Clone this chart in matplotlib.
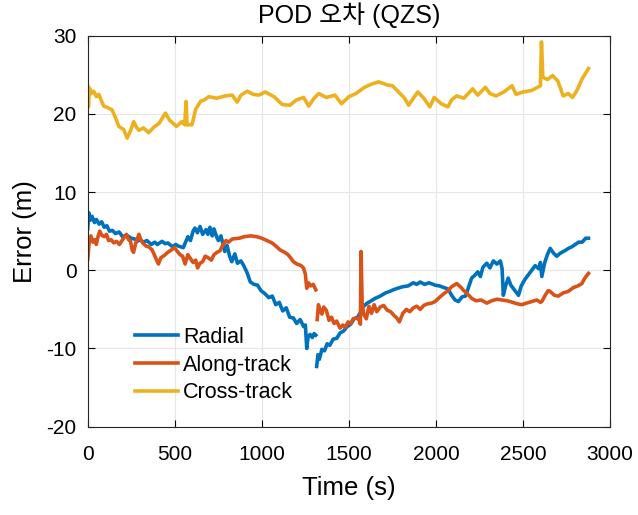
import numpy as np
import matplotlib
matplotlib.use("Agg")
import matplotlib.pyplot as plt

plt.rcParams['font.family'] = ['Liberation Sans', 'Noto Sans CJK KR', 'DejaVu Sans']
plt.rcParams['axes.unicode_minus'] = False

nan = np.nan

# Time (s) and error (m) values (nan = data gap)
radial_t = [0, 5, 15, 25, 39, 50, 65, 80, 95, 110, 125, 141, 160, 180, 200, 222, 250, 270, 284, 300, 320, 340, 365, 385, 400, 427, 445, 460, 488, 505, 520, 549, 560, 575, 590, 605, 616, 630, 645, 660, 680, 690, 702, 715, 725, 740, 750, 765, 787, 800, 815, 827, 845, 860, 880, 896, 915, 934, 955, 975, 995, 1018, 1040, 1060, 1080, 1100, 1120, 1140, 1160, 1181, 1200, 1220, 1240, 1250, 1258, 1265, 1277, 1290, 1300, 1310,
            1312,
            1315, 1322, 1330, 1345, 1360, 1375, 1390, 1410, 1430, 1450, 1468, 1490, 1510, 1530, 1550, 1564, 1575, 1590, 1605, 1621, 1650, 1680, 1710, 1735, 1755, 1780, 1810, 1840, 1870, 1890, 1909, 1935, 1960, 1995, 2020, 2045, 2070, 2090, 2110, 2129, 2150, 2170, 2190, 2205, 2225, 2240, 2255, 2270, 2292, 2310, 2330, 2350, 2370, 2380, 2387, 2400, 2415, 2430, 2450, 2474, 2490, 2510, 2530, 2550, 2570, 2590, 2600, 2608, 2625, 2640, 2656, 2675, 2694, 2715, 2740, 2761, 2780, 2800, 2820, 2840, 2860, 2876]
radial_v = [5.3, 7.4, 6.4, 6.9, 6.1, 6.5, 5.9, 6.2, 5.5, 5.7, 5.0, 5.1, 4.7, 4.9, 4.3, 4.5, 4.1, 4.0, 3.7, 3.9, 3.6, 3.8, 3.3, 3.6, 3.3, 3.7, 3.4, 3.5, 3.0, 3.3, 3.1, 2.9, 3.5, 4.3, 3.8, 5.0, 5.4, 4.8, 5.6, 4.6, 5.2, 4.6, 5.5, 4.4, 5.3, 4.3, 3.8, 4.4, 2.4, 3.2, 1.8, 1.1, 2.1, 0.9, 1.2, 0.6, -0.3, -1.5, -1.8, -1.9, -2.6, -3.0, -3.5, -3.3, -4.4, -4.1, -5.2, -4.8, -6.0, -6.1, -6.8, -6.3, -7.2, -7.0, -10.0, -8.6, -8.2, -8.6, -8.1, -8.3,
            nan,
            -12.3, -10.8, -11.4, -10.1, -10.3, -9.4, -9.6, -8.8, -8.7, -8.0, -7.8, -7.2, -6.9, -6.2, -6.0, -5.5, -4.8, -4.5, -4.2, -4.0, -3.6, -3.3, -2.9, -2.7, -2.5, -2.3, -2.1, -2.0, -1.6, -1.8, -1.5, -1.8, -1.6, -1.9, -2.0, -2.2, -2.4, -3.2, -3.8, -4.0, -3.4, -3.3, -2.0, -1.0, -0.6, -0.2, -0.8, 0.4, 0.9, 0.3, 1.2, 0.8, 1.2, 0.2, -3.2, -2.0, -1.0, -1.9, -2.5, -3.2, -2.0, -1.2, -0.6, 0.0, 0.6, 0.2, 1.0, -0.8, 1.0, 2.0, 2.8, 2.2, 1.8, 2.2, 2.5, 2.8, 3.0, 3.3, 3.6, 3.6, 4.1, 4.1]

along_t = [0, 8, 18, 30, 40, 49, 60, 69, 80, 95, 108, 120, 135, 150, 165, 182, 200, 222, 235, 245, 255, 263, 275, 294, 305, 320, 335, 350, 370, 390, 406, 420, 440, 460, 480, 498, 515, 530, 545, 559, 575, 590, 605, 620, 631, 645, 660, 675, 692, 710, 725, 743, 760, 775, 794, 810, 830, 870, 900, 937, 970, 1000, 1030, 1059, 1080, 1105, 1131, 1150, 1165, 1181, 1202, 1225, 1239, 1250, 1258, 1268, 1280, 1295, 1310,
           1314,
           1318, 1325, 1335, 1345, 1355, 1370, 1386, 1400, 1415, 1430, 1449, 1465, 1480, 1495, 1510, 1525, 1545, 1560, 1566, 1570, 1576, 1585, 1600, 1615, 1630, 1645, 1660, 1680, 1700, 1720, 1740, 1760, 1775, 1790, 1810, 1830, 1850, 1870, 1890, 1910, 1930, 1950, 1975, 1995, 2024, 2045, 2070, 2090, 2120, 2140, 2160, 2180, 2206, 2230, 2260, 2292, 2320, 2350, 2380, 2410, 2440, 2470, 2493, 2520, 2550, 2580, 2600, 2608, 2630, 2645, 2656, 2680, 2703, 2730, 2760, 2790, 2815, 2838, 2855, 2876]
along_v = [1.4, 3.5, 4.4, 3.6, 3.9, 3.3, 4.4, 5.0, 4.5, 4.3, 4.6, 3.8, 3.9, 3.5, 3.7, 3.3, 3.9, 4.6, 3.9, 3.8, 2.6, 2.3, 3.4, 4.6, 3.9, 3.4, 3.1, 3.0, 2.6, 1.6, 0.8, 1.6, 1.9, 2.3, 2.6, 2.9, 2.4, 2.0, 1.8, 0.8, 2.0, 1.5, 1.0, 1.3, 0.3, 0.9, 1.1, 1.8, 1.6, 1.3, 2.0, 2.3, 2.5, 3.2, 3.8, 3.6, 4.0, 4.1, 4.3, 4.4, 4.3, 4.1, 3.8, 3.5, 3.1, 2.6, 2.3, 2.0, 1.6, 1.1, 0.8, 0.6, 0.3, -0.5, -2.3, -1.6, -2.0, -1.8, -2.5,
           nan,
           -6.3, -4.4, -5.2, -5.6, -4.7, -5.1, -6.4, -6.0, -6.8, -6.5, -7.4, -7.0, -7.3, -6.6, -6.8, -6.2, -6.1, -6.4, -6.9, 2.4, -4.1, -5.6, -6.2, -4.6, -5.5, -4.4, -5.3, -4.7, -4.5, -5.1, -5.3, -5.8, -6.1, -6.6, -5.5, -5.0, -5.3, -4.8, -4.6, -5.0, -4.5, -4.3, -4.2, -4.0, -3.4, -3.0, -2.6, -2.1, -1.7, -2.1, -2.6, -3.0, -3.6, -3.9, -3.8, -4.2, -3.9, -3.7, -3.8, -3.9, -4.1, -4.3, -4.4, -4.2, -4.0, -3.8, -4.1, -4.0, -3.1, -2.6, -2.7, -3.2, -3.3, -2.9, -2.7, -2.2, -2.0, -1.7, -1.0, -0.4]

cross_t = [0, 4, 10, 20, 34, 50, 63, 80, 92, 115, 140, 160, 178, 207, 226, 245, 264, 280, 293, 320, 350, 380, 410, 446, 470, 490, 510, 540, 557, 565, 570, 599, 620, 648, 670, 696, 740, 790, 830, 858, 880, 916, 950, 983, 1020, 1070, 1117, 1160, 1200, 1240, 1269, 1300, 1327, 1370, 1420, 1457, 1500, 1540, 1590, 1630, 1671, 1720, 1750, 1794, 1820, 1843, 1870, 1896, 1930, 1965, 1990, 2030, 2069, 2090, 2119, 2160, 2211, 2240, 2284, 2310, 2345, 2390, 2437, 2460, 2500, 2550, 2600, 2606, 2614, 2640, 2670, 2700, 2731, 2760, 2784, 2810, 2840, 2876]
cross_v = [23.5, 20.9, 23.3, 22.6, 22.9, 22.2, 22.5, 21.6, 21.0, 20.8, 20.5, 19.5, 18.4, 18.0, 16.9, 17.8, 19.0, 18.3, 17.9, 18.2, 17.6, 18.3, 18.8, 20.1, 19.2, 18.8, 18.4, 19.0, 18.6, 21.6, 18.6, 18.6, 20.6, 21.6, 21.8, 22.2, 22.0, 22.3, 22.4, 21.5, 22.4, 22.9, 22.5, 22.4, 22.8, 22.2, 21.2, 21.1, 21.8, 22.1, 21.0, 22.0, 22.6, 22.1, 22.4, 21.3, 22.2, 22.6, 23.4, 23.8, 24.1, 23.7, 23.6, 22.6, 22.0, 21.1, 22.0, 22.8, 22.0, 20.9, 22.1, 21.3, 20.9, 21.8, 22.3, 22.0, 23.2, 22.4, 23.4, 22.6, 22.3, 22.8, 23.6, 22.5, 22.8, 23.0, 23.6, 29.2, 24.7, 24.4, 24.9, 24.2, 22.3, 22.6, 22.1, 23.0, 24.5, 25.8]

labels = ['Radial', 'Along-track', 'Cross-track']
colors = ['#0072BD', '#D95319', '#EDB120']

fig = plt.figure(figsize=(6.38, 5.15), dpi=100)
ax = fig.add_axes([0.1375, 0.1715, 0.8187, 0.7592])

for t, v, lab, c in zip([radial_t, along_t, cross_t], [radial_v, along_v, cross_v], labels, colors):
    ax.plot(t, v, color=c, lw=2.6, label=lab)

ax.set_xlim(0, 3000)
ax.set_ylim(-20, 30)
ax.set_xticks(np.arange(0, 3001, 500))
ax.set_yticks(np.arange(-20, 31, 10))
ax.grid(True, color='#e6e6e6', lw=0.8)
ax.set_axisbelow(True)
ax.tick_params(direction='in', top=True, right=True, labelsize=15, length=5, width=0.8)
ax.tick_params(axis='x', pad=13)
ax.tick_params(axis='y', pad=8)
for s in ax.spines.values():
    s.set_linewidth(0.8)
    s.set_color('#262626')

ax.set_xlabel('Time (s)', fontsize=18.5, labelpad=9)
ax.set_ylabel('Error (m)', fontsize=18.5, labelpad=7)
ax.set_title('POD 오차 (QZS)', fontsize=18, pad=9)

ax.legend(loc='lower left', bbox_to_anchor=(0.09, 0.06), frameon=False, fontsize=15.5,
          handlelength=2.0, handletextpad=0.25, labelspacing=0.31, borderaxespad=0, borderpad=0)

fig.savefig('out.png', dpi=100)
